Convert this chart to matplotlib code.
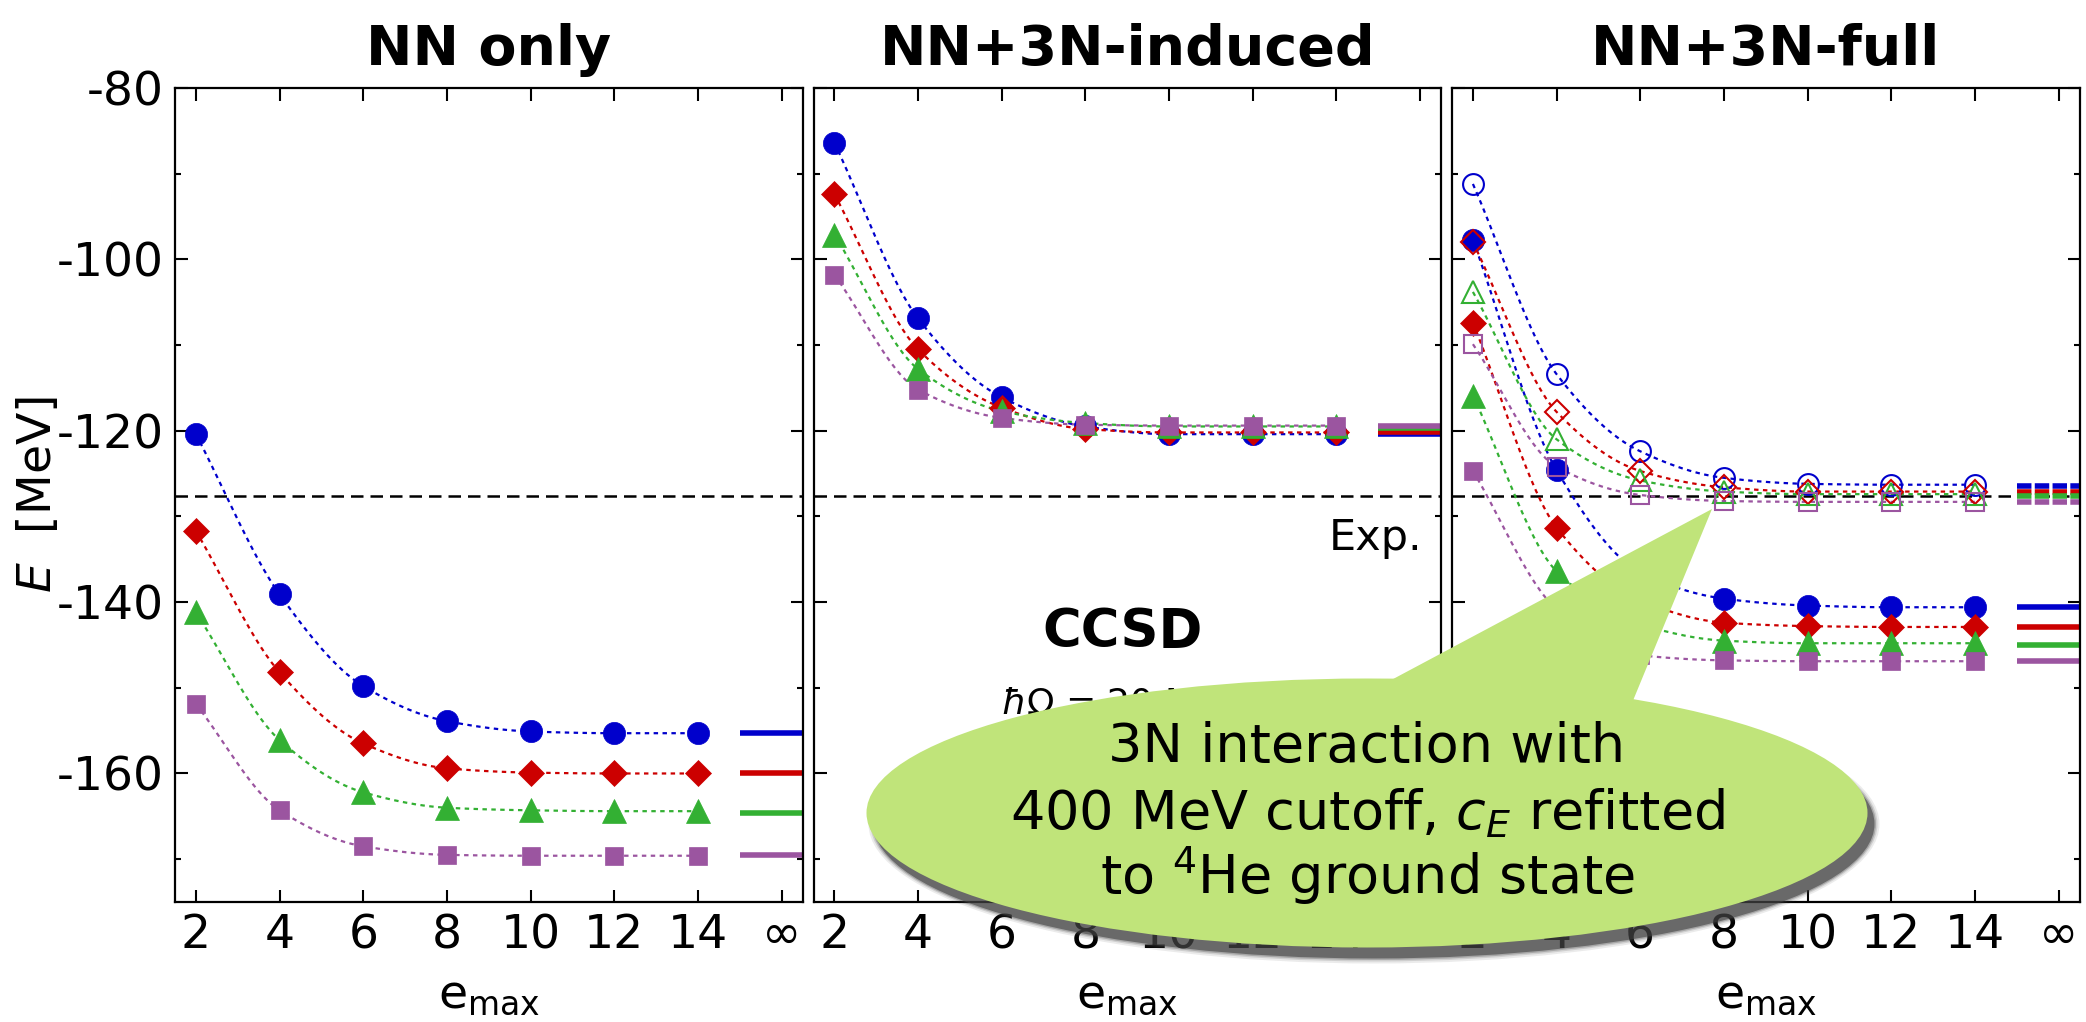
import numpy as np
import matplotlib
matplotlib.use("Agg")
import matplotlib.pyplot as plt
from matplotlib.patches import Ellipse, Polygon

plt.rcParams['font.family'] = ['DejaVu Sans']
plt.rcParams['mathtext.fontset'] = 'dejavusans'

# model space sizes and the extrapolated point drawn at "infinity"
emax = [2, 4, 6, 8, 10, 12, 14]
x_inf = 16
xtick_labels = ['2', '4', '6', '8', '10', '12', '14', '∞']
exp_energy = -127.6

panel_titles = ['NN only', 'NN+3N-induced', 'NN+3N-full']

# NN only
nn_blue = [-120.4, -139.1, -149.8, -153.9, -155.1, -155.3, -155.3]
nn_red = [-131.7, -148.2, -156.5, -159.4, -159.9, -160.0, -160.0]
nn_green = [-141.2, -156.1, -162.2, -164.0, -164.3, -164.4, -164.4]
nn_purple = [-151.9, -164.3, -168.5, -169.5, -169.6, -169.6, -169.6]
nn_inf = [-155.3, -160.0, -164.6, -169.5]

# NN+3N-induced
ind_blue = [-86.4, -106.9, -116.1, -119.5, -120.4, -120.4, -120.4]
ind_red = [-92.4, -110.5, -117.3, -119.8, -120.2, -120.2, -120.2]
ind_green = [-97.1, -112.8, -117.7, -119.1, -119.5, -119.5, -119.5]
ind_purple = [-101.8, -115.2, -118.5, -119.3, -119.4, -119.4, -119.4]
ind_inf = [-120.4, -120.1, -119.7, -119.4]

# NN+3N-full, 500 MeV cutoff (filled) and 400 MeV cutoff (open)
full_blue = [-97.7, -124.6, -136.5, -139.6, -140.4, -140.6, -140.6]
full_red = [-107.4, -131.3, -139.8, -142.4, -142.8, -142.9, -142.9]
full_green = [-115.9, -136.4, -142.6, -144.5, -144.8, -144.8, -144.8]
full_purple = [-124.7, -140.8, -146.2, -146.8, -146.9, -146.9, -146.9]
full_inf = [-140.6, -142.9, -145.0, -146.9]

c400_blue = [-91.2, -113.4, -122.4, -125.5, -126.2, -126.3, -126.3]
c400_red = [-98.0, -117.8, -124.7, -126.6, -127.1, -127.1, -127.1]
c400_green = [-103.8, -121.0, -125.8, -127.1, -127.4, -127.4, -127.4]
c400_purple = [-109.9, -124.2, -127.5, -128.2, -128.3, -128.3, -128.3]
c400_inf = [-126.5, -127.1, -127.6, -128.3]

colors = ['#0000cc', '#cc0000', '#33b033', '#9b55a0']
markers = ['o', 'D', '^', 's']
msizes = [16, 13.5, 17, 13.5]


def smooth(x, y, n=200):
    # monotone cubic (Fritsch-Carlson) through the computed points
    x = np.asarray(x, float)
    y = np.asarray(y, float)
    h = np.diff(x)
    d = np.diff(y) / h
    m = np.zeros_like(y)
    m[0], m[-1] = d[0], d[-1]
    for i in range(1, len(y) - 1):
        if d[i - 1] * d[i] <= 0:
            m[i] = 0
        else:
            w1 = 2 * h[i] + h[i - 1]
            w2 = h[i] + 2 * h[i - 1]
            m[i] = (w1 + w2) / (w1 / d[i - 1] + w2 / d[i])
    xs = np.linspace(x[0], x[-1], n)
    k = np.clip(np.searchsorted(x, xs) - 1, 0, len(x) - 2)
    t = (xs - x[k]) / h[k]
    h00 = 2 * t**3 - 3 * t**2 + 1
    h10 = t**3 - 2 * t**2 + t
    h01 = -2 * t**3 + 3 * t**2
    h11 = t**3 - t**2
    ys = h00 * y[k] + h10 * h[k] * m[k] + h01 * y[k + 1] + h11 * h[k] * m[k + 1]
    return xs, ys


def draw_series(ax, sets, inf_vals, filled=True, inf_dashed=False):
    for i, vals in enumerate(sets):
        xs, ys = smooth(emax, vals)
        ax.plot(xs, ys, color=colors[i], lw=1.6, ls=(0, (2, 2)), zorder=2)
        if filled:
            ax.plot(emax, vals, ls='none', marker=markers[i], ms=msizes[i],
                    color=colors[i], mec=colors[i], mew=0.5, zorder=3)
        else:
            ax.plot(emax, vals, ls='none', marker=markers[i], ms=msizes[i] - 1,
                    mfc='none', mec=colors[i], mew=1.5, zorder=4)
        ls = (0, (2.6, 0.6)) if inf_dashed else '-'
        ax.plot([15.0, 16.5], [inf_vals[i], inf_vals[i]], color=colors[i],
                lw=4, ls=ls, solid_capstyle='butt', zorder=2)


W, H = 2086, 1022
fig = plt.figure(figsize=(W / 100, H / 100), dpi=100)

lefts = [175, 813.5, 1452]
pw = 627.5
bottom = (H - 902) / H
height = 814 / H
axes = []
for j, left in enumerate(lefts):
    ax = fig.add_axes([left / W, bottom, pw / W, height])
    ax.set_xlim(1.5, 16.5)
    ax.set_ylim(-175, -80)
    ax.set_xticks(emax + [x_inf])
    ax.set_xticklabels(xtick_labels)
    ax.set_yticks(np.arange(-160, -79, 20))
    ax.set_yticks(np.arange(-170, -79, 10), minor=True)
    ax.set_yticklabels([str(v) for v in range(-160, -79, 20)])
    ax.tick_params(which='both', direction='in', top=True, right=True,
                   labelsize=34, width=1.5)
    ax.tick_params(which='major', length=9, pad=8)
    ax.tick_params(which='minor', length=4.5)
    for s in ax.spines.values():
        s.set_linewidth(1.6)
    if j > 0:
        ax.tick_params(labelleft=False)
    ax.axhline(exp_energy, color='black', lw=1.8, ls=(0, (5, 2.8)), zorder=1)
    cx_panel = (left + pw / 2) / W
    fig.text(cx_panel, 1 - 1007 / H, 'e$_\\mathrm{max}$', ha='center',
             va='baseline', fontsize=34)
    fig.text(cx_panel, 1 - 65 / H, panel_titles[j], ha='center',
             va='baseline', fontsize=40, fontweight='bold')
    axes.append(ax)

fig.text(38 / W, 1 - 495 / H, '$E$  [MeV]', rotation=90, ha='center',
         va='center', fontsize=34)

draw_series(axes[0], [nn_blue, nn_red, nn_green, nn_purple], nn_inf)
draw_series(axes[1], [ind_blue, ind_red, ind_green, ind_purple], ind_inf)
draw_series(axes[2], [full_blue, full_red, full_green, full_purple], full_inf)
draw_series(axes[2], [c400_blue, c400_red, c400_green, c400_purple], c400_inf,
            filled=False, inf_dashed=True)

axes[1].text(16.06, -133.9, 'Exp.', ha='right', va='baseline', fontsize=31)
axes[1].text(8.88, -145.2, 'CCSD', ha='center', va='baseline',
             fontsize=38, fontweight='bold')
axes[1].text(8.88, -153.0, r'$\hbar\Omega$ = 20 MeV', ha='center',
             va='baseline', fontsize=26)

# callout bubble on a full-figure overlay in pixel units
ov = fig.add_axes([0, 0, 1, 1], zorder=10)
ov.set_xlim(0, W)
ov.set_ylim(H, 0)
ov.axis('off')

cx, cy, ew, eh = 1367, 813, 1001, 269
for grow, a in [(10, 0.1), (6, 0.16), (3, 0.28), (0, 0.6)]:
    ov.add_patch(Ellipse((cx + 7, cy + 11), ew + grow, eh + grow,
                         color='#404040', alpha=a, lw=0))
ov.add_patch(Ellipse((cx, cy), ew, eh, color='#c0e47a', lw=0))
ov.add_patch(Polygon([[1712, 509], [1350, 702], [1618, 737]],
                     closed=True, color='#c0e47a', lw=0))

ov.text(cx, 762, '3N interaction with', ha='center', va='baseline',
        fontsize=39)
ov.text(cx, 829, '400 MeV cutoff, $c_E$ refitted', ha='center',
        va='baseline', fontsize=39)
ov.text(cx, 894, 'to $^4$He ground state', ha='center', va='baseline',
        fontsize=39)

fig.savefig('out.png', dpi=100)
